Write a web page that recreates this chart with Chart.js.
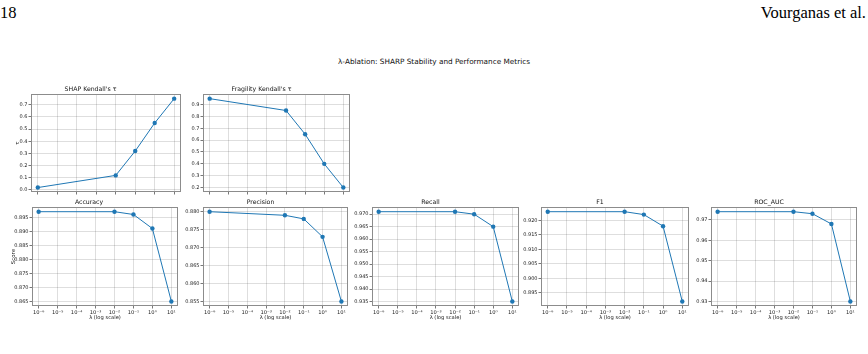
<!DOCTYPE html>
<html>
<head>
<meta charset="utf-8">
<script src="https://cdn.jsdelivr.net/npm/chart.js@4.4.1/dist/chart.umd.min.js"></script>
<style>
  body { margin: 0; background: #fff; width: 868px; height: 354px; position: relative; overflow: hidden; font-family: "DejaVu Sans", sans-serif; }
  .hdr { position: absolute; top: 3px; font-family: "Liberation Serif", serif; font-size: 16.5px; color: #000; }
  #figTitle { position: absolute; left: 0; width: 868px; top: 57px; text-align: center; font-size: 7.3px; color: #111; }
  canvas { position: absolute; }
</style>
</head>
<body>
<div class="hdr" style="left:0">18</div>
<div class="hdr" style="right:2px">Vourganas et al.</div>
<div id="figTitle">λ-Ablation: SHARP Stability and Performance Metrics</div>
<script>
(function () {
  // data
  const lambdas = [1e-6, 1e-2, 1e-1, 1, 10];
  const xTicks = [1e-6, 1e-5, 1e-4, 1e-3, 1e-2, 1e-1, 1, 10];
  const xTickLabels = ['10⁻⁶', '10⁻⁵', '10⁻⁴', '10⁻³', '10⁻²', '10⁻¹', '10⁰', '10¹'];

  const shapTau = [0.02, 0.12, 0.32, 0.55, 0.75];
  const fragilityTau = [0.95, 0.85, 0.65, 0.40, 0.20];
  const accuracy = [0.897, 0.897, 0.896, 0.891, 0.865];
  const precision = [0.880, 0.879, 0.878, 0.873, 0.855];
  const recall = [0.971, 0.971, 0.970, 0.965, 0.935];
  const f1 = [0.923, 0.923, 0.922, 0.918, 0.892];
  const rocAuc = [0.974, 0.974, 0.973, 0.968, 0.930];

  const shapTicks = [0.0, 0.1, 0.2, 0.3, 0.4, 0.5, 0.6, 0.7];
  const fragTicks = [0.2, 0.3, 0.4, 0.5, 0.6, 0.7, 0.8, 0.9];
  const accTicks = [0.865, 0.870, 0.875, 0.880, 0.885, 0.890, 0.895];
  const precTicks = [0.855, 0.860, 0.865, 0.870, 0.875, 0.880];
  const recTicks = [0.935, 0.940, 0.945, 0.950, 0.955, 0.960, 0.965, 0.970];
  const f1Ticks = [0.895, 0.900, 0.905, 0.910, 0.915, 0.920];
  const rocTicks = [0.93, 0.94, 0.95, 0.96, 0.97];

  const BLUE = '#1f77b4';
  const GRID = 'rgba(0,0,0,0.13)';
  const FRAME = '#8c8c8c';

  Chart.defaults.font.family = '"DejaVu Sans", sans-serif';
  Chart.defaults.color = '#222';

  const frameBox = {
    id: 'frameBox',
    afterDraw(chart) {
      const a = chart.chartArea, ctx = chart.ctx;
      ctx.save();
      ctx.strokeStyle = FRAME;
      ctx.lineWidth = 1;
      ctx.strokeRect(Math.round(a.left) + 0.5, Math.round(a.top) + 0.5,
        Math.round(a.right - a.left) - 1, Math.round(a.bottom - a.top) - 1);
      ctx.restore();
    }
  };

  const panels = [
    { title: "SHAP Kendall's τ", values: shapTau, ticks: shapTicks, dec: 1, plot: [31, 94, 181, 193], xLabels: false, yTitle: 'τ', left: 0 },
    { title: "Fragility Kendall's τ", values: fragilityTau, ticks: fragTicks, dec: 1, plot: [203, 94, 350, 193], xLabels: false },
    { title: 'Accuracy', values: accuracy, ticks: accTicks, dec: 3, plot: [32, 207, 178, 306], xLabels: true, yTitle: 'Score', left: 0 },
    { title: 'Precision', values: precision, ticks: precTicks, dec: 3, plot: [203, 207, 348, 306], xLabels: true },
    { title: 'Recall', values: recall, ticks: recTicks, dec: 3, plot: [372, 207, 519, 306], xLabels: true },
    { title: 'F1', values: f1, ticks: f1Ticks, dec: 3, plot: [541, 207, 689, 306], xLabels: true },
    { title: 'ROC_AUC', values: rocAuc, ticks: rocTicks, dec: 2, plot: [711, 207, 857, 306], xLabels: true }
  ];

  const TITLE_H = 8;
  const RPAD = 6;

  function makePanel(p) {
    const [pl, pt, pr, pb] = p.plot;
    const canvasLeft = p.left !== undefined ? p.left : pl - 30;
    const L = pl - canvasLeft;
    const B = p.xLabels ? 16 : 3;
    const canvas = document.createElement('canvas');
    const w = L + (pr - pl) + RPAD;
    const h = TITLE_H + (pb - pt) + B;
    canvas.width = w; canvas.height = h;
    canvas.style.left = canvasLeft + 'px';
    canvas.style.top = (pt - TITLE_H) + 'px';
    canvas.style.width = w + 'px';
    canvas.style.height = h + 'px';
    document.body.appendChild(canvas);

    const lo = Math.min(...p.values), hi = Math.max(...p.values);
    const m = (hi - lo) * 0.05;
    const xLo = Math.pow(10, -6.35), xHi = Math.pow(10, 1.35);

    return new Chart(canvas.getContext('2d'), {
      type: 'line',
      data: {
        datasets: [{
          data: lambdas.map((x, i) => ({ x, y: p.values[i] })),
          borderColor: BLUE,
          backgroundColor: BLUE,
          borderWidth: 1,
          pointRadius: 2.2,
          pointBorderWidth: 0,
          pointBackgroundColor: BLUE,
          tension: 0
        }]
      },
      options: {
        responsive: false,
        animation: false,
        devicePixelRatio: 1,
        layout: { padding: { left: 0, top: 0, right: RPAD, bottom: 0 } },
        plugins: {
          legend: { display: false },
          tooltip: { enabled: false },
          title: {
            display: true,
            text: p.title,
            font: { size: 6.2, weight: 'normal', lineHeight: 1 },
            color: '#111',
            padding: { top: 0, bottom: 2 }
          }
        },
        scales: {
          x: {
            type: 'logarithmic',
            min: xLo,
            max: xHi,
            bounds: 'data',
            grid: { color: GRID, lineWidth: 1, drawTicks: true, tickLength: 2.5, tickColor: '#555', tickWidth: 0.8 },
            border: { display: false },
            ticks: {
              font: { size: 5.2 },
              padding: 1.5,
              maxRotation: 0,
              autoSkip: false,
              callback: (v, i) => p.xLabels ? xTickLabels[i] : ''
            },
            title: {
              display: p.xLabels,
              text: 'λ (log scale)',
              font: { size: 5.2 },
              padding: { top: 0, bottom: 1 }
            },
            afterBuildTicks: s => { s.ticks = xTicks.map(v => ({ value: v })); },
            afterFit: s => { s.height = B; s.paddingLeft = 0; s.paddingRight = 0; }
          },
          y: {
            type: 'linear',
            min: lo - m,
            max: hi + m,
            bounds: 'data',
            grid: { color: GRID, lineWidth: 1, drawTicks: true, tickLength: 2.5, tickColor: '#555', tickWidth: 0.8 },
            border: { display: false },
            ticks: {
              font: { size: 5 },
              padding: 1,
              autoSkip: false,
              callback: v => v.toFixed(p.dec)
            },
            title: {
              display: !!p.yTitle,
              text: p.yTitle || '',
              font: { size: 5.4 },
              padding: { top: p.yTitle === 'τ' ? 14 : 10, bottom: 0 }
            },
            afterBuildTicks: s => { s.ticks = p.ticks.map(v => ({ value: v })); },
            afterFit: s => { s.width = L; s.paddingTop = 0; s.paddingBottom = 0; }
          }
        }
      },
      plugins: [frameBox]
    });
  }

  panels.forEach(makePanel);
})();
</script>
</body>
</html>
